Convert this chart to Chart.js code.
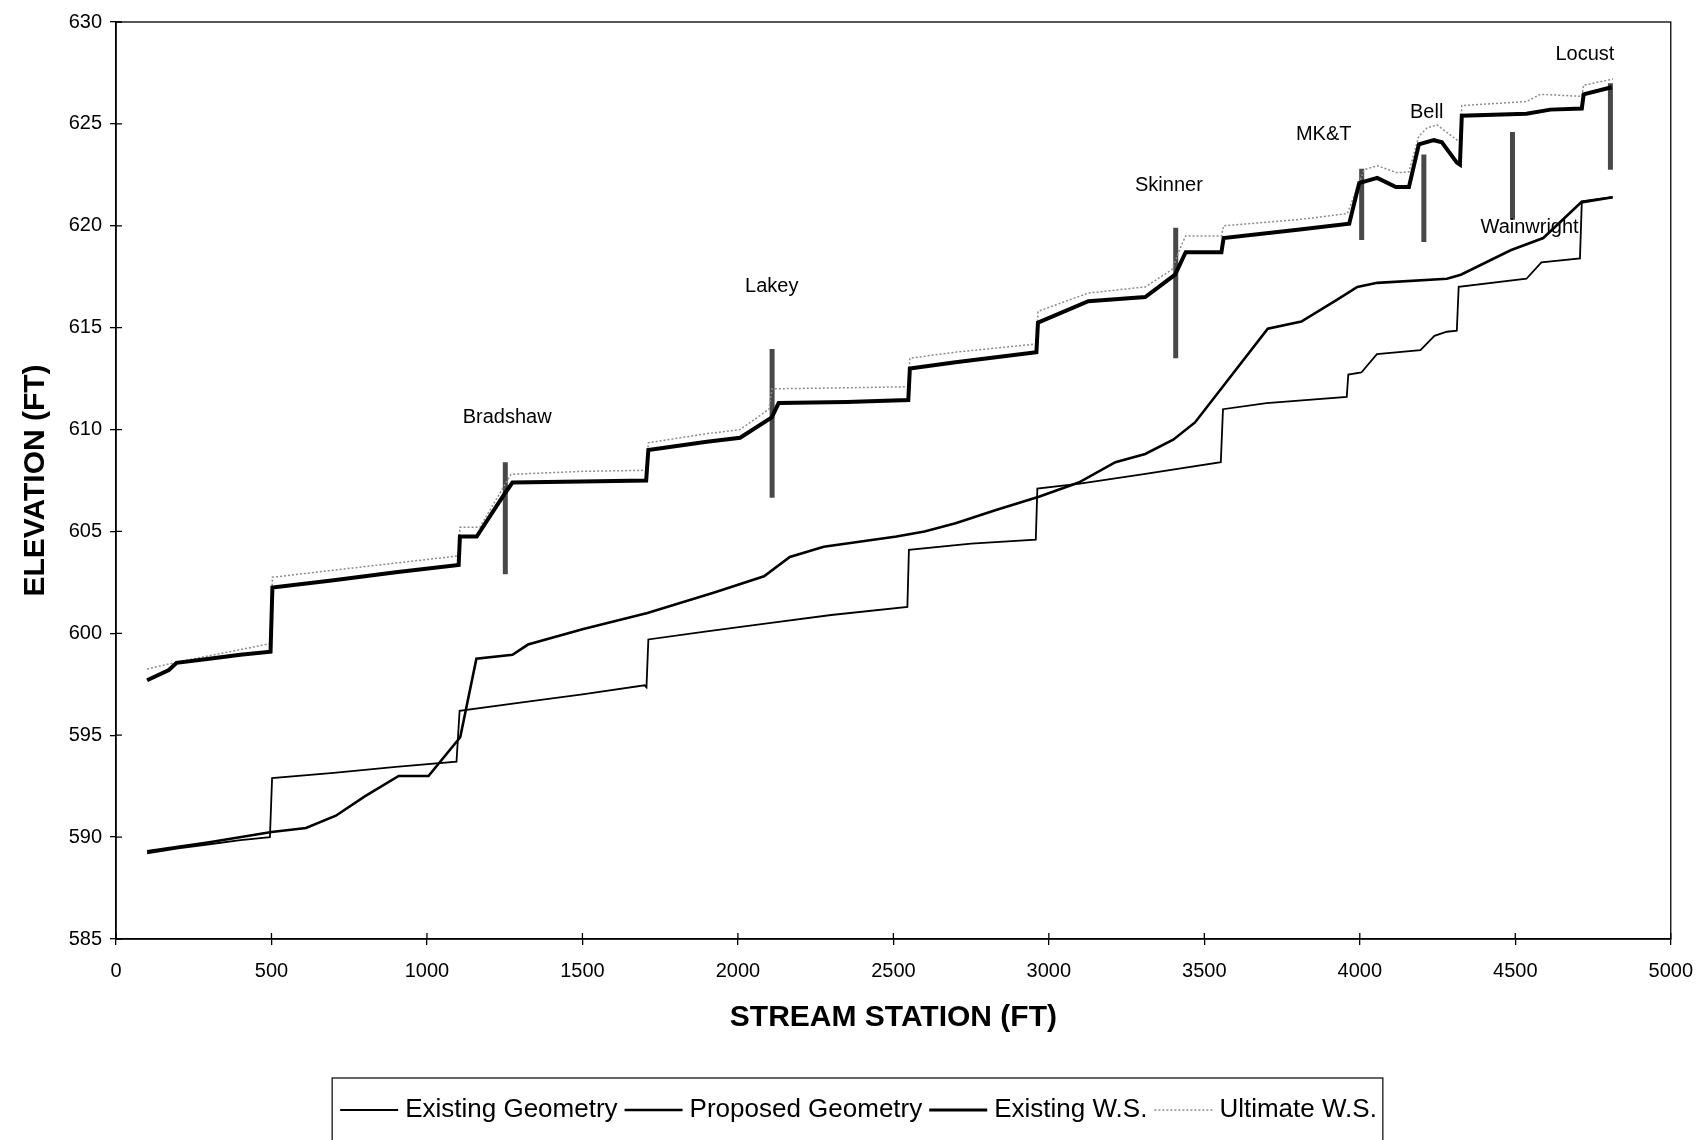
<!DOCTYPE html>
<html>
<head>
<meta charset="utf-8">
<title>Stream Profile</title>
<script src="https://cdn.jsdelivr.net/npm/chart.js@4.4.1/dist/chart.umd.min.js"></script>
<style>
  html, body { margin: 0; padding: 0; background: #fff; }
</style>
</head>
<body>
<canvas id="profile" width="1707" height="1140"></canvas>
<script>
// stream station (ft) / elevation (ft) for each profile
const existingGeomSta = [100, 200, 300, 400, 495, 502, 700, 900, 1095, 1105, 1300, 1500, 1700, 1706, 1712, 1900, 2100, 2300, 2545, 2550, 2750, 2958, 2963, 3100, 3300, 3553, 3560, 3700, 3958, 3963, 4005, 4055, 4195, 4240, 4280, 4312, 4318, 4536, 4584, 4708, 4714, 4810];
const existingGeomElev = [589.2, 589.45, 589.65, 589.85, 590.0, 592.9, 593.15, 593.45, 593.7, 596.2, 596.6, 597.0, 597.45, 597.35, 599.7, 600.1, 600.5, 600.9, 601.3, 604.1, 604.4, 604.6, 607.1, 607.35, 607.8, 608.4, 611.0, 611.3, 611.6, 612.7, 612.8, 613.7, 613.9, 614.6, 614.8, 614.85, 617.0, 617.4, 618.2, 618.4, 621.2, 621.4];

const proposedGeomSta = [100, 300, 500, 611, 707, 800, 909, 1005, 1107, 1159, 1275, 1325, 1500, 1709, 1924, 2084, 2167, 2276, 2510, 2600, 2700, 2830, 2968, 3096, 3214, 3310, 3400, 3470, 3704, 3812, 3930, 3992, 4056, 4280, 4325, 4485, 4590, 4712, 4814];
const proposedGeomElev = [589.3, 589.75, 590.25, 590.45, 591.05, 592.0, 593.0, 593.0, 594.9, 598.75, 598.95, 599.45, 600.2, 601.0, 602.0, 602.8, 603.75, 604.25, 604.75, 605.0, 605.4, 606.05, 606.7, 607.4, 608.4, 608.8, 609.5, 610.35, 614.95, 615.3, 616.4, 617.0, 617.2, 617.4, 617.6, 618.8, 619.4, 621.15, 621.4];

const existingWsSta = [100, 170, 195, 300, 400, 497, 503, 700, 900, 1102, 1106, 1160, 1252, 1275, 1500, 1705, 1712, 1900, 2007, 2109, 2131, 2350, 2548, 2553, 2700, 2960, 2965, 3127, 3310, 3406, 3440, 3555, 3562, 3800, 3966, 3998, 4056, 4116, 4158, 4190, 4238, 4264, 4312, 4322, 4328, 4536, 4613, 4714, 4720, 4810];
const existingWsElev = [597.7, 598.2, 598.55, 598.75, 598.95, 599.1, 602.25, 602.6, 603.0, 603.35, 604.75, 604.75, 606.9, 607.4, 607.45, 607.5, 609.0, 609.4, 609.6, 610.6, 611.3, 611.35, 611.45, 613.0, 613.3, 613.8, 615.25, 616.3, 616.5, 617.6, 618.7, 618.7, 619.4, 619.8, 620.1, 622.1, 622.35, 621.9, 621.9, 624.0, 624.2, 624.1, 623.1, 623.0, 625.4, 625.5, 625.7, 625.75, 626.45, 626.8];

const ultimateWsSta = [100, 200, 300, 400, 497, 503, 700, 900, 1102, 1106, 1170, 1270, 1500, 1705, 1712, 1900, 2007, 2100, 2110, 2350, 2548, 2553, 2700, 2960, 2965, 3127, 3310, 3396, 3425, 3440, 3555, 3562, 3800, 3960, 4014, 4056, 4120, 4158, 4190, 4216, 4248, 4296, 4322, 4328, 4536, 4581, 4714, 4720, 4814];
const ultimateWsElev = [598.25, 598.6, 598.9, 599.2, 599.5, 602.75, 603.1, 603.45, 603.8, 605.2, 605.2, 607.8, 607.95, 608.0, 609.35, 609.8, 610.0, 611.0, 612.0, 612.05, 612.1, 613.5, 613.8, 614.2, 615.8, 616.7, 617.0, 617.85, 619.0, 619.5, 619.5, 620.0, 620.3, 620.6, 622.75, 622.95, 622.6, 622.65, 624.4, 624.8, 624.95, 624.4, 624.1, 625.9, 626.1, 626.45, 626.35, 626.9, 627.2];

// bridge crossings: station, low/high chord elevations, name placement
const bridgeNames = ['Bradshaw', 'Lakey', 'Skinner', 'MK&T', 'Bell', 'Wainwright', 'Locust'];
const bridgeSta = [1252, 2110, 3408, 4006, 4206, 4491, 4806];
const bridgeLow = [602.9, 606.65, 613.5, 619.3, 619.2, 620.3, 622.75];
const bridgeHigh = [608.4, 613.95, 619.9, 622.8, 623.5, 624.6, 627.0];
const labelSta = [1258, 2109, 3386, 3884, 4215, 4546, 4724];
const labelElev = [610.6, 617.0, 622.0, 624.5, 625.55, 619.9, 628.4];

const xTicks = [0, 500, 1000, 1500, 2000, 2500, 3000, 3500, 4000, 4500, 5000];
const yTicks = [585, 590, 595, 600, 605, 610, 615, 620, 625, 630];

const FONT = "'Liberation Sans', Arial, Helvetica, sans-serif";
Chart.defaults.font.family = FONT;
Chart.defaults.color = '#000';

function pts(sta, elev) {
  return sta.map((s, i) => ({ x: s, y: elev[i] }));
}

const profiles = [
  { label: 'Existing Geometry', data: pts(existingGeomSta, existingGeomElev), borderColor: '#000', borderWidth: 1.8, showInKey: true },
  { label: 'Proposed Geometry', data: pts(proposedGeomSta, proposedGeomElev), borderColor: '#000', borderWidth: 2.6, showInKey: true },
  { label: 'Existing W.S.', data: pts(existingWsSta, existingWsElev), borderColor: '#000', borderWidth: 4, showInKey: true },
  { label: 'Ultimate W.S.', data: pts(ultimateWsSta, ultimateWsElev), borderColor: '#8c8c8c', borderWidth: 1.5, borderDash: [2, 2], showInKey: true }
];

const bridges = bridgeNames.map((name, i) => ({
  label: name,
  data: [{ x: bridgeSta[i], y: bridgeLow[i] }, { x: bridgeSta[i], y: bridgeHigh[i] }],
  borderColor: '#484848',
  borderWidth: 5,
  borderCapStyle: 'butt',
  order: 1
}));

const datasets = profiles.map(p => Object.assign({ showLine: true, pointRadius: 0, fill: false, order: 0 }, p))
  .concat(bridges.map(b => Object.assign({ showLine: true, pointRadius: 0, fill: false }, b)));

// frame, inside tick marks, bridge names and the boxed key
const profileExtras = {
  id: 'profileExtras',
  afterDatasetsDraw(chart) {
    const { ctx, chartArea: a, scales: { x, y } } = chart;
    ctx.save();
    ctx.strokeStyle = '#000';
    ctx.lineWidth = 1.3;
    ctx.strokeRect(a.left, a.top, a.right - a.left, a.bottom - a.top);
    ctx.beginPath();
    xTicks.forEach(v => {
      const px = x.getPixelForValue(v);
      ctx.moveTo(px, a.bottom);
      ctx.lineTo(px, a.bottom - 6);
    });
    yTicks.forEach(v => {
      const py = y.getPixelForValue(v);
      ctx.moveTo(a.left, py);
      ctx.lineTo(a.left + 6, py);
    });
    ctx.stroke();

    ctx.font = '20px ' + FONT;
    ctx.fillStyle = '#000';
    ctx.textAlign = 'center';
    ctx.textBaseline = 'middle';
    bridgeNames.forEach((n, i) => {
      ctx.fillText(n, x.getPixelForValue(labelSta[i]), y.getPixelForValue(labelElev[i]));
    });
    ctx.restore();
  },
  afterDraw(chart) {
    const ctx = chart.ctx;
    const items = chart.data.datasets.filter(d => d.showInKey);
    const sample = 58, gap = 7;
    ctx.save();
    ctx.font = '26px ' + FONT;
    const widths = items.map(d => ctx.measureText(d.label).width);
    const total = widths.reduce((s, w) => s + w + sample + gap, 0) + gap * (items.length - 1);
    let cx = chart.width / 2 + 5 - total / 2;
    const top = 1078, mid = 1110;
    ctx.strokeStyle = '#000';
    ctx.lineWidth = 1.2;
    ctx.strokeRect(cx - 8, top, total + 14, 90);
    items.forEach((d, i) => {
      ctx.beginPath();
      ctx.setLineDash(d.borderDash || []);
      ctx.lineWidth = Math.min(d.borderWidth, 3);
      ctx.strokeStyle = d.borderColor;
      ctx.moveTo(cx, mid);
      ctx.lineTo(cx + sample, mid);
      ctx.stroke();
      ctx.setLineDash([]);
      cx += sample + gap;
      ctx.fillStyle = '#000';
      ctx.textAlign = 'left';
      ctx.textBaseline = 'middle';
      ctx.fillText(d.label, cx, mid);
      cx += widths[i] + gap;
    });
    ctx.restore();
  }
};

new Chart(document.getElementById('profile'), {
  type: 'scatter',
  data: { datasets: datasets },
  options: {
    responsive: false,
    animation: false,
    layout: { padding: { left: 0, right: 23, top: 22, bottom: 91 } },
    elements: { line: { tension: 0 }, point: { radius: 0 } },
    plugins: { legend: { display: false }, tooltip: { enabled: false } },
    scales: {
      x: {
        type: 'linear',
        min: 0,
        max: 5000,
        afterBuildTicks: s => { s.ticks = xTicks.map(v => ({ value: v })); },
        ticks: { padding: 14, font: { size: 20 }, color: '#000', maxRotation: 0, autoSkip: false, callback: v => String(v) },
        grid: { drawOnChartArea: false, tickLength: 6, color: '#000', lineWidth: 1.3 },
        border: { color: '#000', width: 1.5 },
        title: { display: true, text: 'STREAM STATION (FT)', font: { size: 30, weight: 'bold' }, color: '#000', padding: { top: 0, bottom: 13 } },
        afterFit: s => { s.height = 110; }
      },
      y: {
        min: 585,
        max: 630,
        afterBuildTicks: s => { s.ticks = yTicks.map(v => ({ value: v })); },
        ticks: { padding: 8, font: { size: 20 }, color: '#000', autoSkip: false, callback: v => String(v) },
        grid: { drawOnChartArea: false, tickLength: 6, color: '#000', lineWidth: 1.3 },
        border: { color: '#000', width: 1.5 },
        title: { display: true, text: 'ELEVATION (FT)', font: { size: 30, weight: 'bold' }, color: '#000', padding: { top: 18, bottom: 0 } },
        afterFit: s => { s.width = 116; }
      }
    }
  },
  plugins: [profileExtras]
});
</script>
</body>
</html>
